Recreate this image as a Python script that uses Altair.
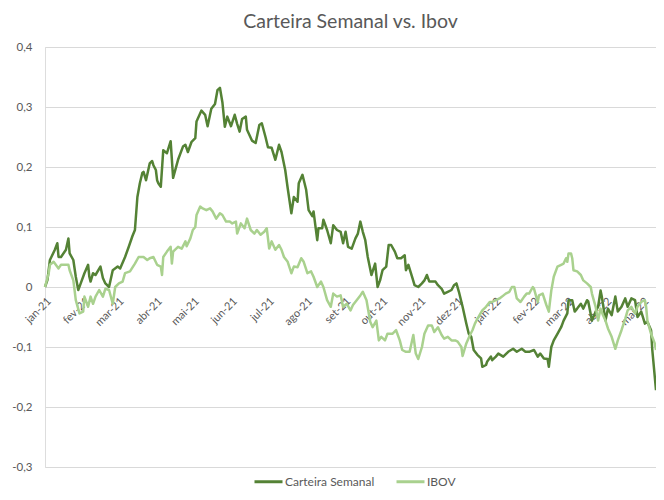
import altair as alt
import pandas as pd

TITLE = "Carteira Semanal vs. Ibov"
SERIES = ["Carteira Semanal", "IBOV"]
COLORS = ["#548235", "#A9D18E"]
START = pd.Timestamp("2021-01-04")

# (days since 2021-01-04, accumulated return)
CARTEIRA = [
    (0, 0.0), (2, 0.012), (4, 0.045), (8, 0.062), (10, 0.073), (11, 0.05), (13, 0.05),
    (17, 0.062), (19, 0.081), (20, 0.056), (23, 0.045), (25, 0.017), (27, -0.005),
    (29, 0.006), (32, 0.023), (35, 0.037), (36, 0.017), (37, 0.009), (39, 0.023),
    (41, 0.02), (45, 0.034), (47, 0.015), (49, 0.006), (52, 0.0), (55, 0.028),
    (59, 0.034), (61, 0.031), (65, 0.05), (68, 0.067), (71, 0.085), (73, 0.095),
    (75, 0.15), (77, 0.173), (79, 0.19), (80, 0.192), (82, 0.178), (85, 0.206),
    (87, 0.21), (88, 0.203), (90, 0.195), (91, 0.178), (92, 0.173), (94, 0.167),
    (96, 0.228), (99, 0.223), (102, 0.243), (104, 0.182), (108, 0.212), (112, 0.234),
    (114, 0.237), (116, 0.225), (119, 0.242), (122, 0.248), (123, 0.276), (127, 0.294),
    (130, 0.287), (132, 0.268), (135, 0.297), (138, 0.305), (140, 0.328), (142, 0.332),
    (144, 0.308), (146, 0.267), (148, 0.284), (151, 0.268), (154, 0.287), (156, 0.272),
    (158, 0.259), (160, 0.28), (163, 0.284), (164, 0.262), (168, 0.244), (171, 0.24),
    (174, 0.27), (176, 0.273), (179, 0.25), (181, 0.233), (184, 0.232), (187, 0.212),
    (190, 0.237), (192, 0.225), (195, 0.195), (197, 0.165), (200, 0.123), (202, 0.15),
    (205, 0.142), (206, 0.173), (209, 0.187), (212, 0.162), (214, 0.128), (217, 0.118),
    (218, 0.126), (221, 0.078), (222, 0.098), (225, 0.098), (226, 0.112), (229, 0.095),
    (232, 0.073), (234, 0.103), (237, 0.095), (240, 0.092), (242, 0.073), (244, 0.092),
    (246, 0.067), (249, 0.064), (252, 0.081), (254, 0.089), (256, 0.109), (258, 0.092),
    (260, 0.078), (262, 0.05), (265, 0.02), (268, 0.039), (270, 0.0), (272, 0.011),
    (274, 0.028), (277, 0.034), (279, 0.07), (281, 0.07), (284, 0.059), (286, 0.048),
    (289, 0.048), (292, 0.053), (293, 0.028), (295, 0.037), (298, 0.017), (300, 0.003),
    (303, 0.0), (306, 0.006), (308, 0.011), (310, 0.02), (312, 0.009), (317, 0.009),
    (319, 0.003), (322, -0.003), (324, -0.011), (327, -0.008), (330, -0.005), (332, 0.003),
    (334, 0.006), (336, -0.008), (339, -0.033), (342, -0.061), (344, -0.078), (346, -0.083),
    (348, -0.105), (351, -0.113), (354, -0.119), (355, -0.133), (358, -0.13), (359, -0.124),
    (362, -0.116), (363, -0.122), (366, -0.116), (368, -0.111), (372, -0.116), (376, -0.108),
    (380, -0.103), (383, -0.108), (387, -0.103), (390, -0.108), (393, -0.108), (397, -0.105),
    (400, -0.116), (402, -0.111), (405, -0.119), (408, -0.12), (409, -0.133), (411, -0.1),
    (413, -0.089), (416, -0.078), (419, -0.067), (421, -0.056), (424, -0.044), (425, -0.022),
    (428, -0.022), (430, -0.041), (432, -0.036), (435, -0.028), (437, -0.036), (440, -0.022),
    (441, -0.024), (444, -0.056), (447, -0.041), (449, -0.033), (451, -0.006), (452, -0.016),
    (455, -0.056), (457, -0.036), (460, -0.047), (463, -0.016), (465, -0.041), (468, -0.033),
    (471, -0.019), (473, -0.033), (476, -0.019), (479, -0.022), (481, -0.05), (484, -0.041),
    (487, -0.061), (489, -0.058), (492, -0.072), (493, -0.105), (496, -0.172),
]

IBOV = [
    (0, 0.0), (3, 0.023), (4, 0.037), (7, 0.042), (11, 0.031), (13, 0.037), (17, 0.037),
    (19, 0.037), (20, 0.028), (23, 0.011), (24, -0.005), (25, -0.022), (28, -0.044),
    (31, -0.041), (32, -0.016), (35, -0.033), (37, -0.016), (39, -0.028), (41, -0.016),
    (44, -0.005), (47, -0.016), (49, -0.003), (52, -0.005), (55, -0.028), (57, 0.0),
    (60, 0.006), (63, 0.009), (65, 0.023), (69, 0.026), (73, 0.039), (76, 0.05),
    (80, 0.05), (83, 0.045), (85, 0.048), (88, 0.05), (91, 0.037), (94, 0.034),
    (95, 0.02), (96, 0.05), (99, 0.059), (102, 0.067), (103, 0.039), (104, 0.059),
    (108, 0.067), (111, 0.064), (114, 0.076), (115, 0.068), (118, 0.081), (120, 0.095),
    (122, 0.1), (123, 0.12), (126, 0.134), (128, 0.131), (131, 0.128), (134, 0.131),
    (136, 0.126), (139, 0.114), (142, 0.123), (144, 0.12), (147, 0.109), (150, 0.109),
    (152, 0.106), (155, 0.109), (156, 0.089), (159, 0.106), (162, 0.098), (164, 0.114),
    (167, 0.095), (170, 0.089), (172, 0.095), (175, 0.087), (178, 0.092), (180, 0.098),
    (182, 0.064), (184, 0.076), (187, 0.062), (190, 0.07), (192, 0.062), (194, 0.05),
    (197, 0.042), (200, 0.023), (202, 0.034), (205, 0.033), (208, 0.048), (210, 0.042),
    (213, 0.023), (216, 0.026), (218, 0.017), (221, 0.0), (224, 0.009), (226, 0.0),
    (229, -0.022), (232, -0.033), (234, -0.011), (237, -0.016), (240, -0.014), (242, -0.033),
    (245, -0.028), (248, -0.039), (250, -0.03), (253, -0.022), (256, -0.014), (258, -0.008),
    (261, -0.022), (264, -0.058), (266, -0.067), (269, -0.056), (271, -0.089), (273, -0.083),
    (276, -0.089), (278, -0.078), (282, -0.078), (285, -0.072), (288, -0.089), (290, -0.105),
    (293, -0.108), (296, -0.108), (299, -0.08), (301, -0.111), (303, -0.12), (306, -0.1),
    (308, -0.078), (311, -0.064), (314, -0.064), (316, -0.075), (319, -0.067), (322, -0.08),
    (324, -0.086), (327, -0.083), (330, -0.089), (333, -0.089), (335, -0.091), (338, -0.1),
    (339, -0.115), (342, -0.094), (345, -0.08), (347, -0.072), (349, -0.061), (351, -0.053),
    (355, -0.039), (358, -0.033), (361, -0.025), (363, -0.025), (366, -0.022), (369, -0.019),
    (371, -0.016), (374, -0.011), (377, -0.008), (379, 0.0), (381, 0.0), (383, -0.019),
    (386, -0.025), (389, -0.016), (391, -0.011), (393, -0.011), (396, 0.0), (397, -0.003),
    (400, -0.025), (401, -0.014), (404, -0.011), (407, -0.03), (409, -0.041), (411, -0.006),
    (413, 0.017), (416, 0.034), (419, 0.037), (421, 0.039), (423, 0.048), (424, 0.042),
    (425, 0.056), (427, 0.056), (428, 0.048), (429, 0.028), (432, 0.026), (435, 0.02),
    (437, 0.011), (440, 0.006), (443, 0.0), (444, -0.011), (447, -0.033), (449, -0.056),
    (451, -0.036), (453, -0.047), (455, -0.056), (457, -0.069), (460, -0.083), (463, -0.103),
    (465, -0.089), (468, -0.072), (471, -0.053), (473, -0.039), (476, -0.033), (479, -0.044),
    (481, -0.033), (484, -0.025), (487, -0.022), (488, -0.033), (489, -0.056), (492, -0.078),
    (495, -0.094), (496, -0.105),
]

MONTHS_PT = ["jan", "fev", "mar", "abr", "mai", "jun", "jul", "ago", "set", "out", "nov", "dez"]
X_TICKS = [(2021, m) for m in range(1, 13)] + [(2022, m) for m in range(1, 6)]
Y_TICKS = [-0.3, -0.2, -0.1, 0, 0.1, 0.2, 0.3, 0.4]
Y_LABELS = ["-0,3", "-0,2", "-0,1", "0", "0,1", "0,2", "0,3", "0,4"]

FONT = "Lato"
GREY = "#595959"


def frame(rows, name):
    df = pd.DataFrame(rows, columns=["day", "value"])
    df["date"] = START + pd.to_timedelta(df["day"], unit="D")
    df["serie"] = name
    return df


df_c = frame(CARTEIRA, SERIES[0])
df_i = frame(IBOV, SERIES[1])

month_arr = "[" + ",".join("'%s'" % m for m in MONTHS_PT) + "]"
x_label_expr = month_arr + "[month(datum.value)] + '-' + timeFormat(datum.value, '%y')"
y_arr = "[" + ",".join("'%s'" % s for s in Y_LABELS) + "]"
y_label_expr = y_arr + "[round(datum.value*10)+3]"

x_scale = alt.Scale(
    domain=[alt.DateTime(year=2021, month=1, date=4),
            alt.DateTime(year=2022, month=5, date=15)],
    nice=False,
)
y_scale = alt.Scale(domain=[Y_TICKS[0], Y_TICKS[-1]], nice=False, zero=False)

x_axis = alt.Axis(
    values=[alt.DateTime(year=y, month=m, date=4) for y, m in X_TICKS],
    labelExpr=x_label_expr,
    labelAngle=-45,
    labelAlign="right",
    labelBaseline="top",
    labelPadding=8,
    labelOverlap=False,
    labelBound=False,
    labelFlush=False,
    offset=-180,
    ticks=False,
    tickSize=0,
    domain=False,
    grid=False,
    title=None,
    labelFont=FONT,
    labelFontSize=11,
    labelColor=GREY,
)
y_axis = alt.Axis(
    values=Y_TICKS,
    labelExpr=y_label_expr,
    ticks=False,
    tickSize=0,
    domain=False,
    grid=True,
    gridColor="#D9D9D9",
    gridWidth=1,
    labelPadding=13,
    title=None,
    labelFont=FONT,
    labelFontSize=11.5,
    labelColor=GREY,
)

color = alt.Color(
    "serie:N",
    scale=alt.Scale(domain=SERIES, range=COLORS),
    legend=alt.Legend(
        title=None,
        orient="none",
        direction="horizontal",
        legendX=208,
        legendY=419,
        symbolType="stroke",
        symbolSize=784,
        symbolStrokeWidth=3,
        labelFont=FONT,
        labelFontSize=12,
        labelColor=GREY,
        labelOffset=1,
        columnPadding=15,
    ),
)


def layer(df):
    return alt.Chart(df).mark_line(strokeWidth=2.5, strokeJoin="round").encode(
        x=alt.X("date:T", scale=x_scale, axis=x_axis),
        y=alt.Y("value:Q", scale=y_scale, axis=y_axis),
        color=color,
    )


chart = alt.layer(layer(df_c), layer(df_i)).properties(
    width=611,
    height=420,
    title=alt.TitleParams(
        TITLE, font=FONT, fontSize=19.5, fontWeight="normal", color=GREY,
        anchor="middle", frame="group", offset=9,
    ),
    autosize=alt.AutoSizeParams(type="none"),
    padding={"left": 37, "top": 39, "right": 0, "bottom": 21},
).configure_view(stroke=None).configure(background="white")

chart.save("out.html", embed_options={"renderer": "svg", "actions": False})
